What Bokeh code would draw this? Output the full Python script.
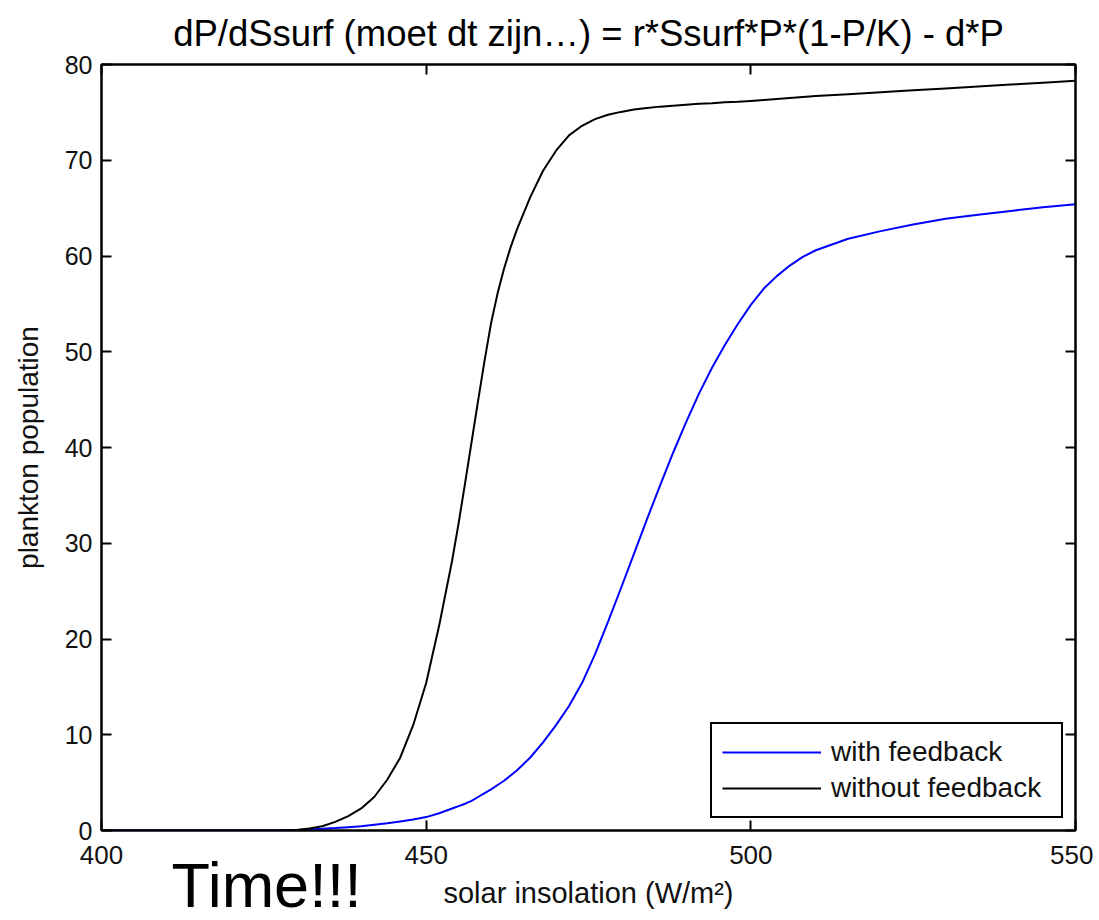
from bokeh.plotting import figure
from bokeh.models import LinearAxis, Range1d, Legend, LegendItem, Title, FixedTicker
from bokeh.embed import file_html
from bokeh.resources import INLINE

TITLE = "dP/dSsurf (moet dt zijn\u2026) = r*Ssurf*P*(1-P/K) - d*P"
X_LABEL = "solar insolation (W/m\u00b2)"
Y_LABEL = "plankton population"
NOTE = "Time!!!"
SERIES_NAMES = ["with feedback", "without feedback"]
X_TICKS = [400, 450, 500, 550]
Y_TICKS = [0, 10, 20, 30, 40, 50, 60, 70, 80]

insolation = [400, 410, 420, 425, 428, 430, 432, 434, 436, 438, 440, 442, 444, 446, 448,
              450, 452, 454, 455, 456, 457, 458, 459, 460, 461, 462, 463, 464, 466, 468,
              470, 472, 474, 476, 478, 480, 482, 484, 486, 488, 490, 492, 494, 496, 498,
              500, 502, 504, 506, 508, 510, 515, 520, 525, 530, 535, 540, 545, 550]

with_feedback = [0, 0, 0, 0, 0.02, 0.05, 0.1, 0.17, 0.25, 0.35, 0.45, 0.6, 0.75, 0.95, 1.15,
                 1.4, 1.8, 2.3, 2.55, 2.8, 3.1, 3.5, 3.9, 4.3, 4.75, 5.2, 5.75, 6.3, 7.6, 9.2,
                 11.0, 13.0, 15.4, 18.4, 21.8, 25.3, 28.9, 32.5, 36.0, 39.4, 42.6, 45.6, 48.3, 50.7, 52.9,
                 54.9, 56.6, 57.9, 59.0, 59.9, 60.6, 61.8, 62.6, 63.3, 63.9, 64.3, 64.7, 65.1, 65.4]

without_feedback = [0, 0, 0, 0, 0.02, 0.06, 0.2, 0.45, 0.9, 1.5, 2.3, 3.5, 5.3, 7.6, 11.0,
                    15.4, 21.4, 28.2, 32.1, 36.3, 40.6, 44.9, 49.1, 53.0, 56.1, 58.7, 60.9, 62.8, 66.1, 68.9,
                    71.0, 72.6, 73.6, 74.3, 74.75, 75.05, 75.3, 75.45, 75.6, 75.7, 75.8, 75.9, 75.95, 76.05, 76.1,
                    76.2, 76.3, 76.4, 76.5, 76.6, 76.7, 76.9, 77.1, 77.3, 77.5, 77.7, 77.9, 78.1, 78.3]

FONT = "Liberation Sans"

p = figure(frame_width=974, frame_height=766,
           x_range=Range1d(400, 550), y_range=Range1d(0, 80),
           output_backend="svg", toolbar_location=None,
           min_border_left=101, min_border_right=18, min_border_top=63, min_border_bottom=91,
           x_axis_label=X_LABEL, y_axis_label=Y_LABEL)

p.title.text = TITLE
p.title.align = "center"
p.title.text_font = FONT
p.title.text_font_size = "36.5px"
p.title.text_font_style = "normal"
p.title.text_color = "black"
p.title.standoff = 21
p.title.offset = 9

p.xgrid.visible = False
p.ygrid.visible = False
p.outline_line_color = "black"
p.outline_line_width = 2
p.background_fill_color = "white"
p.border_fill_color = "white"

r_blue = p.line(insolation, with_feedback, line_color="#0000ff", line_width=2)
r_black = p.line(insolation, without_feedback, line_color="black", line_width=2)


def style_axis(ax, labels=True):
    ax.axis_line_color = "black"
    ax.axis_line_width = 2
    ax.major_tick_line_color = "black"
    ax.major_tick_line_width = 2
    ax.major_tick_in = 10
    ax.major_tick_out = 0
    ax.minor_tick_line_color = None
    ax.major_label_text_font = FONT
    ax.major_label_text_color = "#111111"
    ax.axis_label_text_font = FONT
    ax.axis_label_text_font_style = "normal"
    ax.axis_label_text_color = "#111111"
    if not labels:
        ax.major_label_text_font_size = "1px"
        ax.major_label_text_color = None
        ax.major_label_standoff = 0
        ax.axis_label_standoff = 0


xa = p.xaxis[0]
ya = p.yaxis[0]
xa.ticker = FixedTicker(ticks=X_TICKS)
ya.ticker = FixedTicker(ticks=Y_TICKS)
style_axis(xa)
style_axis(ya)
xa.major_label_text_font_size = "26px"
ya.major_label_text_font_size = "25px"
xa.major_label_standoff = 15
ya.major_label_standoff = 9
xa.axis_label_text_font_size = "29px"
ya.axis_label_text_font_size = "28px"
xa.axis_label_standoff = 10
ya.axis_label_standoff = 18

top_ax = LinearAxis(ticker=FixedTicker(ticks=X_TICKS))
right_ax = LinearAxis(ticker=FixedTicker(ticks=Y_TICKS))
style_axis(top_ax, labels=False)
style_axis(right_ax, labels=False)
p.add_layout(top_ax, "above")
p.add_layout(right_ax, "right")

legend = Legend(items=[LegendItem(label=SERIES_NAMES[0], renderers=[r_blue]),
                       LegendItem(label=SERIES_NAMES[1], renderers=[r_black])],
                location="bottom_right")
legend.margin = 12
legend.padding = 10
legend.spacing = 0
legend.glyph_width = 99
legend.glyph_height = 36
legend.label_height = 36
legend.label_width = 220
legend.label_standoff = 10
legend.label_text_font = FONT
legend.label_text_font_size = "28px"
legend.label_text_color = "#111111"
legend.border_line_color = "black"
legend.border_line_alpha = 1.0
legend.border_line_width = 2
legend.background_fill_color = "white"
legend.background_fill_alpha = 1.0
p.add_layout(legend)

note = Title(text=NOTE, align="left", vertical_align="top", offset=70, standoff=-124,
             text_font=FONT, text_font_size="63px", text_font_style="normal",
             text_color="black")
p.add_layout(note, "below")

open("out.html", "w").write(file_html(p, INLINE))
